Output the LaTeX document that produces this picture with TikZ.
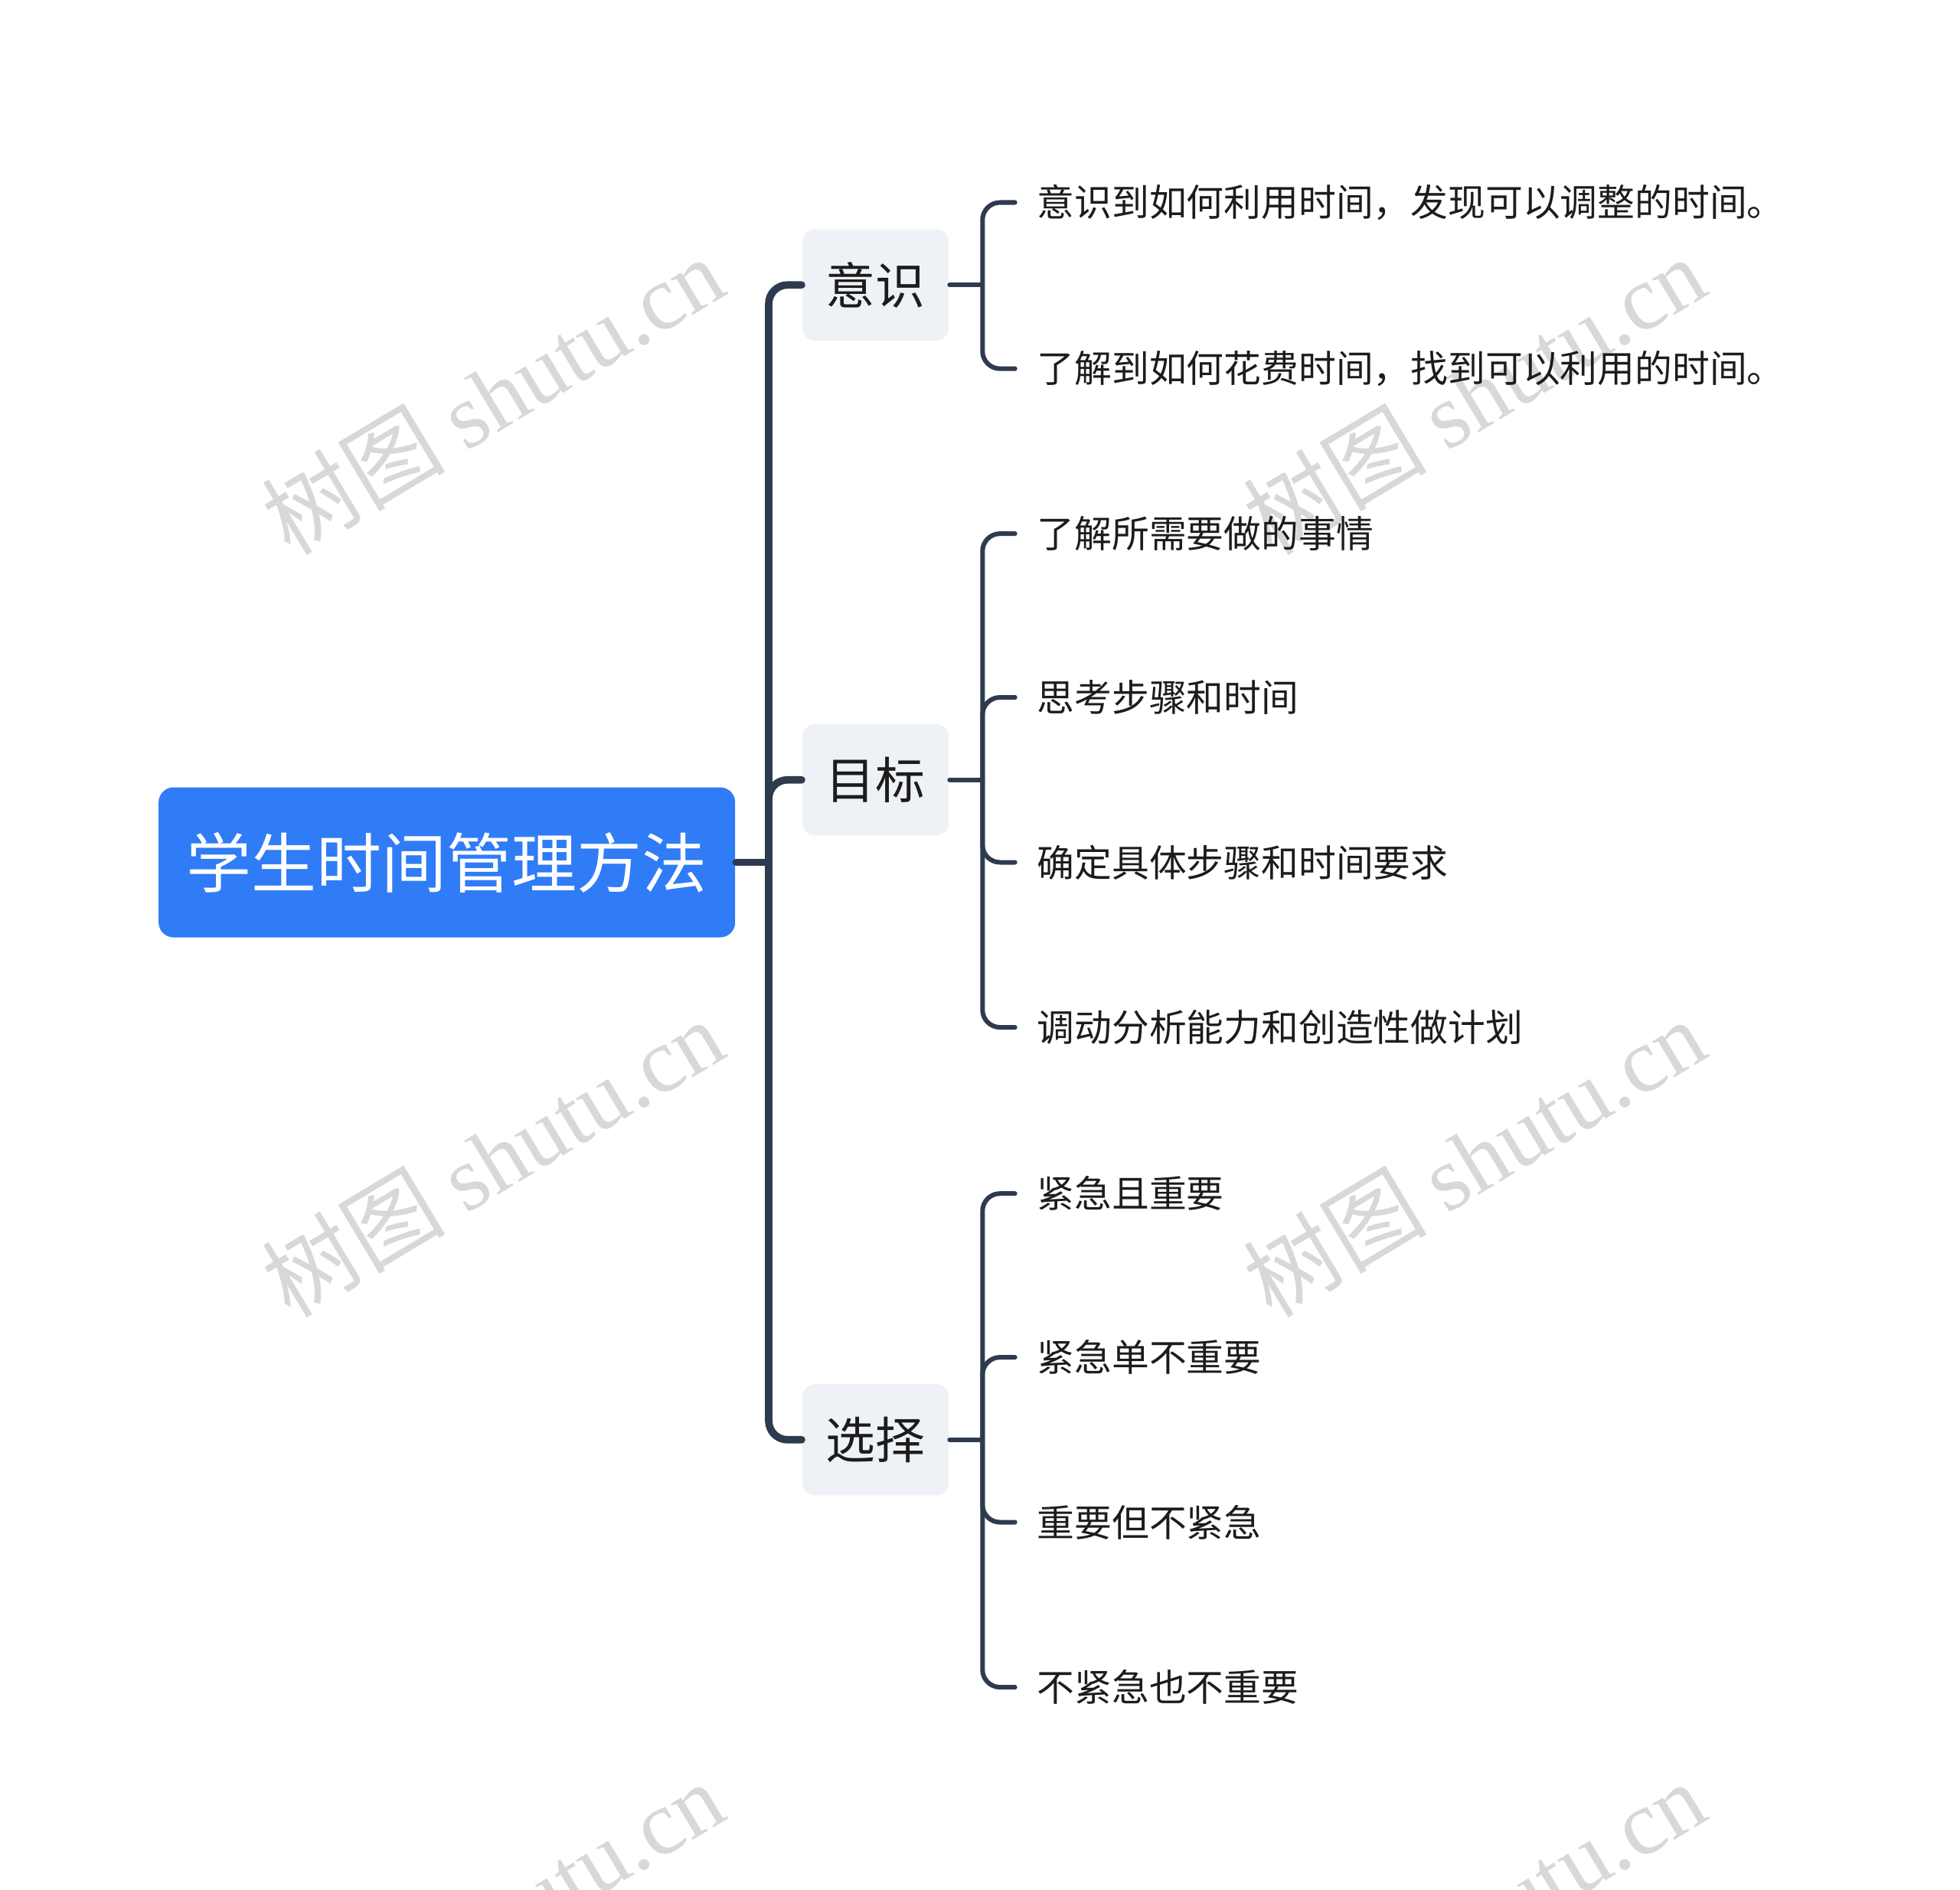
\documentclass[tikz,border=0pt]{standalone}
\usepackage{fontspec}
\setmainfont{Noto Sans CJK SC}
\newfontfamily\wmfont{Liberation Serif}
\usetikzlibrary{positioning}
\definecolor{rootblue}{HTML}{2F7CF6}
\definecolor{topicgray}{HTML}{EEF1F5}
\definecolor{linkcol}{HTML}{2E3B4E}
\definecolor{wmgray}{HTML}{D8D8D8}
\definecolor{txtcol}{HTML}{1C1C1C}

\begin{document}
\begin{tikzpicture}[line cap=round,line join=round,x=0.01cm,y=-0.01cm,
		rootbox/.style={fill=rootblue,rounded corners=0.12cm,minimum width=4.61cm,minimum height=1.2cm,inner sep=0pt,text=white,font=\fontsize{14.8}{17}\selectfont},
		topicbox/.style={fill=topicgray,rounded corners=0.1cm,minimum width=1.17cm,minimum height=0.89cm,inner sep=0pt,text=txtcol,font=\fontsize{11.3}{13}\selectfont},
		leaf/.style={anchor=west,inner xsep=0.17cm,inner ysep=0pt,text=txtcol,font=\fontsize{8.5}{10}\selectfont},
		mainline/.style={draw=linkcol,line width=1.7pt,rounded corners=0.15cm},
		twig/.style={draw=linkcol,line width=1.05pt,rounded corners=0.14cm},
		wm/.style={text=wmgray,rotate=31,font=\fontsize{20.9}{24}\selectfont}]
			\useasboundingbox (0,0) rectangle (1568,1512);
			\begin{scope}
				\clip (0,0) rectangle (1568,1512);
				\foreach \wx/\wy [count=\i] in {394/316,1179/316,394/926,1179/926,394/1536,1179/1536}
					\node[wm] (wm\i) at (\wx,\wy) {树图 {\wmfont shutu.cn}};
			\end{scope}
			\node[rootbox] (root) at (357.5,690) {学生时间管理方法};
			\node[topicbox] (yishi) at (700.5,228) {意识};
			\node[topicbox] (mubiao) at (700.5,624) {目标};
			\node[topicbox] (xuanze) at (700.5,1152) {选择};
			\coordinate (spine) at (615,690);
			\coordinate (brY) at (786,228);
			\coordinate (brM) at (786,624);
			\coordinate (brX) at (786,1152);
			\node[leaf] (y1) at (812,162) {意识到如何利用时间，发现可以调整的时间。};
			\node[leaf] (y2) at (812,295) {了解到如何花费时间，找到可以利用的时间。};
			\node[leaf] (m1) at (812,427) {了解所需要做的事情};
			\node[leaf] (m2) at (812,558) {思考步骤和时间};
			\node[leaf] (m3) at (812,690) {确定具体步骤和时间要求};
			\node[leaf] (m4) at (812,822) {调动分析能力和创造性做计划};
			\node[leaf] (x1) at (812,955) {紧急且重要};
			\node[leaf] (x2) at (812,1086) {紧急单不重要};
			\node[leaf] (x3) at (812,1218) {重要但不紧急};
			\node[leaf] (x4) at (812,1350) {不紧急也不重要};
			\draw[mainline] (root.east) -- (spine);
			\draw[mainline] (yishi.west) -| (spine) |- (xuanze.west);
			\draw[mainline] (spine) |- (mubiao.west);
			\draw[twig] (yishi.east) -- (brY);
			\draw[twig] (y1.west) -| (brY) |- (y2.west);
			\draw[twig] (mubiao.east) -- (brM);
			\draw[twig] (m1.west) -| (brM) |- (m4.west);
			\draw[twig] (brM) |- (m2.west);
			\draw[twig] (brM) |- (m3.west);
			\draw[twig] (xuanze.east) -- (brX);
			\draw[twig] (x1.west) -| (brX) |- (x4.west);
			\draw[twig] (brX) |- (x2.west);
			\draw[twig] (brX) |- (x3.west);
		\end{tikzpicture}
\end{document}
